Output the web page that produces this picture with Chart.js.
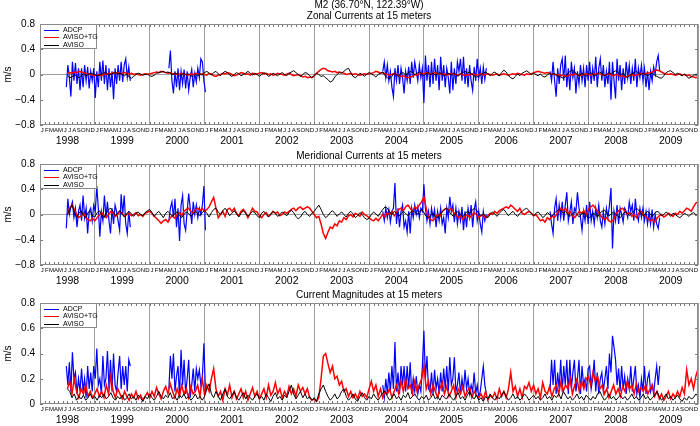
<!DOCTYPE html>
<html lang="en">
<head>
  <meta charset="UTF-8">
  <title>M2 currents at 15 meters</title>
  <script src="https://cdn.jsdelivr.net/npm/chart.js"></script>
  <style>
    html, body { margin: 0; padding: 0; background: #fff; }
    body { width: 700px; height: 426px; position: relative; overflow: hidden;
           font-family: "Liberation Sans", Arial, Helvetica, sans-serif; }
    .panel { position: absolute; left: 0; width: 700px; height: 146px; }
    .panel canvas { position: absolute; left: 0; top: 0; }
    .legend { position: absolute; left: 40px; top: 24px; width: 57px; height: 25px;
              box-sizing: border-box; border: 1px solid #8a8a8a; background: #fff; }
    .legend .row { position: absolute; left: 22px; font-size: 7px; line-height: 8px; white-space: nowrap; color: #000; }
    .legend .swatch { position: absolute; left: 3px; width: 15px; height: 1px; }
  </style>
</head>
<body>
  <div class="panel" id="p1" style="top:0px"><canvas id="zonal" width="700" height="146"></canvas></div>
  <div class="panel" id="p2" style="top:140px"><canvas id="merid" width="700" height="146"></canvas></div>
  <div class="panel" id="p3" style="top:279px"><canvas id="mag" width="700" height="146"></canvas></div>

  <script>
    // --- axis labels ---
    const years = [1998, 1999, 2000, 2001, 2002, 2003, 2004, 2005, 2006, 2007, 2008, 2009];
    const monthLetters = ['J', 'F', 'M', 'A', 'M', 'J', 'J', 'A', 'S', 'O', 'N', 'D'];
    const seriesNames = ['ADCP', 'AVISO+TG', 'AVISO'];
    const seriesColors = ['#0000ff', '#ff0000', '#000000'];
    const velTicks = [-0.8, -0.4, 0, 0.4, 0.8];
    const velTickLabels = ['\u22120.8', '\u22120.4', '0', '0.4', '0.8'];
    const magTicks = [0, 0.2, 0.4, 0.6, 0.8];
    const magTickLabels = ['0', '0.2', '0.4', '0.6', '0.8'];

    // ADCP records: start (decimal year) of each deployment, ~10 day sampling
    const adcpStarts = [1998.48, 2000.35, 2004.25, 2007.3];
    const adcpStep = 1 / 36;
    // AVISO series: half-monthly from July 1998
    const avisoStart = 1998.5;
    const avisoStep = 1 / 24;

    // --- zonal (m/s) ---
    const zonalAdcp1998 = [-0.2, 0.15, -0.05, -0.35, 0.2, -0.1, 0.18, -0.15, 0.1, -0.25,
      0.1, -0.2, 0.15, -0.1, 0.12, -0.22, 0.05, -0.1, 0.1, -0.37,
      0.05, -0.2, 0.2, -0.1, 0.22, -0.15, 0.15, -0.25, 0.1, -0.2,
      0.05, -0.39, 0.1, -0.15, 0.15, -0.1, 0.2, -0.12, 0.15, 0.25,
      -0.05, 0.12, -0.1];
    const zonalAdcp2000 = [0.1, 0.38, -0.1, -0.3, 0.05, -0.2, 0.1, -0.25, 0.05, -0.15,
      0.08, -0.22, 0.05, -0.25, -0.05, 0.08, -0.2, 0.02, -0.12, 0.1,
      -0.05, 0.25, 0.2, -0.1, -0.28];
    const zonalAdcp2004 = [0.05, 0.2, -0.05, 0.15, -0.1, 0.05, -0.2, -0.35, 0.1, -0.1,
      0.15, -0.15, 0.1, -0.05, -0.3, 0.05, -0.1, 0.12, -0.15, 0.2,
      -0.05, 0.2, 0.05, -0.1, 0.15, -0.05, 0.1, -0.45, 0.3, -0.1,
      0.15, -0.2, 0.2, -0.15, 0.25, -0.1, 0.15, -0.25, 0.28, -0.1,
      0.15, -0.2, 0.1, -0.05, -0.3, 0.2, -0.25, 0.1, -0.15, 0.2,
      0.05, 0.25, -0.1, 0.28, -0.15, 0.1, -0.2, 0.15, -0.1, -0.25,
      0.12, -0.1, 0.25, -0.05, 0.1, -0.15, 0.12, -0.08, 0.1];
    const zonalAdcp2007 = [0.05, -0.1, 0.2, -0.1, -0.35, 0.1, -0.15, 0.15, 0.25, -0.1,
      0.3, -0.2, 0.1, -0.25, 0.2, -0.05, 0.1, -0.3, 0.05, -0.15,
      0.15, -0.1, 0.1, -0.2, 0.15, -0.1, 0.2, -0.15, 0.1, -0.1,
      0.28, -0.2, 0.1, 0.25, -0.1, 0.15, -0.2, 0.05, -0.15, 0.2,
      -0.4, 0.2, -0.1, -0.38, 0.25, -0.1, 0.15, -0.25, 0.1, -0.15,
      0.2, -0.05, 0.15, -0.15, 0.1, -0.1, 0.25, -0.2, 0.1, -0.05,
      0.15, -0.1, 0.1, -0.2, 0.05, -0.25, 0.05, -0.1, 0.12, 0.0,
      0.2, 0.3, 0.05];
    const zonalAvisoTg = [
      0.02, 0.03, 0.02, 0.04, 0.03, 0.05, 0.04, 0.03, 0.02, 0.01, 0.0, -0.01,
      -0.02, -0.01, 0.0, -0.02, 0.01, 0.0, 0.02, 0.01, 0.03, 0.02, 0.03, 0.01,
      0.02, 0.03, 0.02, 0.01, 0.02, 0.0, 0.01, 0.0, -0.01, 0.0, 0.01, 0.0,
      0.01, 0.02, 0.03, 0.04, 0.03, 0.05, 0.04, 0.03, 0.02, 0.03, 0.01, 0.02,
      0.0, 0.01, 0.02, 0.01, 0.0, -0.01, 0.01, 0.0, 0.02, 0.01, 0.0, 0.01,
      0.0, -0.01, 0.02, 0.01, -0.02, -0.03, -0.01, 0.0, 0.02, 0.01, 0.03, 0.02,
      0.0, -0.02, -0.01, 0.01, 0.03, 0.02, 0.0, 0.01, -0.01, 0.02, 0.0, 0.01,
      0.02, 0.03, 0.01, 0.02, 0.0, 0.01, -0.01, 0.0, 0.02, 0.01, 0.0, -0.01,
      0.01, 0.02, 0.0, -0.02, -0.01, 0.0, -0.02, -0.04, -0.03, -0.05, -0.04, -0.05,
      -0.02, 0.02, 0.05, 0.08, 0.1, 0.09, 0.06, 0.05, 0.04, 0.05, 0.03, 0.04,
      0.03, 0.02, 0.0, 0.01, 0.02, 0.0, 0.01, 0.0, -0.01, 0.0, 0.01, 0.0,
      0.01, 0.02, 0.03, 0.05, 0.04, 0.02, 0.03, 0.01, 0.0, -0.01, 0.0, 0.02,
      0.0, -0.02, -0.03, -0.02, -0.04, -0.05, -0.04, -0.03, 0.0, -0.01, 0.01, 0.02,
      0.01, 0.03, 0.02, 0.0, 0.02, 0.03, 0.01, 0.02, 0.0, 0.01, -0.01, 0.0,
      0.02, 0.01, 0.0, -0.01, 0.01, 0.0, -0.02, 0.0, -0.01, 0.01, 0.0, -0.01,
      0.0, 0.01, -0.01, 0.0, 0.01, 0.0, -0.01, 0.0, 0.01, -0.01, 0.0, 0.01,
      0.0, -0.01, 0.0, 0.01, 0.0, 0.02, 0.01, 0.0, -0.01, 0.01, 0.0, 0.01,
      0.03, 0.04, 0.05, 0.04, 0.03, 0.02, 0.03, 0.02, 0.0, 0.01, -0.01, 0.0,
      -0.02, -0.01, -0.03, -0.02, 0.0, -0.01, 0.01, 0.0, -0.02, -0.01, 0.0, 0.01,
      0.0, -0.01, 0.01, 0.0, 0.02, 0.01, 0.0, -0.01, 0.0, 0.01, -0.01, -0.02,
      0.0, -0.01, -0.03, -0.02, -0.04, -0.03, -0.01, 0.0, -0.02, -0.01, 0.0, 0.02,
      0.01, 0.02, 0.02, 0.03, 0.04, 0.06, 0.07, 0.06, 0.04, 0.02, 0.01, 0.0,
      0.01, 0.0, -0.01, 0.0, 0.01, -0.01, 0.0, -0.02, -0.01, -0.03, -0.04, -0.05,
      -0.04];
    const zonalAviso = [
      -0.02, -0.05, -0.04, 0.0, -0.03, -0.05, -0.02, 0.01, -0.02, 0.0, 0.02, 0.01,
      0.0, -0.02, -0.01, 0.01, 0.03, 0.02, -0.01, 0.0, 0.02, 0.03, 0.01, 0.02,
      0.0, -0.02, 0.01, -0.04, -0.06, -0.03, 0.0, 0.02, 0.01, -0.01, 0.0, 0.01,
      -0.02, -0.03, -0.01, 0.02, 0.03, 0.04, 0.05, 0.03, 0.04, 0.02, 0.0, 0.02,
      0.01, -0.02, 0.0, 0.02, -0.01, 0.01, -0.02, -0.03, 0.0, -0.02, 0.01, -0.01,
      0.03, 0.05, 0.02, -0.01, 0.03, 0.05, 0.01, -0.02, 0.02, 0.05, 0.03, -0.01,
      -0.03, 0.0, 0.03, 0.01, -0.02, 0.0, 0.02, 0.05, 0.02, -0.01, 0.02, 0.0,
      -0.03, 0.0, 0.03, 0.01, -0.03, -0.01, 0.02, 0.0, -0.02, 0.01, 0.03, 0.0,
      -0.02, 0.02, 0.04, 0.06, 0.03, 0.0, -0.03, 0.0, 0.03, 0.02, -0.02, -0.05,
      -0.02, 0.02, 0.0, -0.03, -0.02, -0.05, -0.08, -0.12, -0.1, -0.04, 0.0, 0.03,
      0.02, 0.05, 0.08, 0.1, 0.03, -0.03, -0.05, -0.02, 0.02, 0.0, -0.03, 0.01,
      0.03, 0.01, -0.01, -0.04, 0.0, 0.02, 0.04, -0.02, -0.05, -0.07, -0.03, 0.02,
      0.0, -0.03, 0.02, 0.03, -0.01, 0.02, 0.05, 0.03, 0.0, 0.02, 0.04, 0.01,
      -0.02, 0.01, 0.03, 0.0, 0.02, -0.01, 0.01, 0.03, 0.0, -0.02, 0.01, 0.02,
      -0.01, 0.02, 0.0, -0.03, 0.01, 0.03, 0.05, 0.02, 0.04, 0.0, -0.02, -0.04,
      -0.03, 0.0, 0.02, 0.04, 0.01, -0.02, 0.02, 0.04, 0.0, -0.02, 0.03, 0.07,
      0.04, -0.02, -0.05, -0.07, -0.03, 0.01, -0.02, 0.02, 0.04, 0.06, 0.03, 0.0,
      0.02, 0.0, -0.02, 0.01, -0.03, -0.04, -0.01, 0.02, 0.0, 0.02, -0.01, -0.03,
      -0.04, -0.06, -0.03, 0.02, 0.05, 0.07, 0.04, 0.0, -0.02, 0.02, 0.0, -0.03,
      0.01, 0.03, 0.0, -0.02, 0.02, 0.04, 0.01, -0.02, 0.0, 0.03, 0.01, 0.04,
      0.06, 0.03, -0.01, 0.02, -0.02, -0.05, -0.02, 0.01, 0.03, 0.05, 0.02, 0.0,
      0.02, 0.0, -0.02, 0.01, 0.02, -0.01, -0.03, -0.05, -0.06, -0.02, 0.03, 0.05,
      0.06, 0.03, 0.0, 0.02, 0.0, -0.02, 0.01, -0.03, -0.06, -0.04, -0.01, 0.0,
      0.01];

    // --- meridional (m/s) ---
    const meridAdcp1998 = [-0.22, 0.25, 0.0, 0.12, 0.2, -0.05, 0.1, -0.2, 0.05, 0.15,
      -0.1, 0.3, -0.05, 0.1, -0.3, 0.05, 0.1, -0.1, 0.15, 0.05,
      0.45, 0.1, -0.35, 0.05, -0.1, 0.3, -0.05, 0.2, -0.1, -0.3,
      0.1, -0.15, 0.15, 0.05, -0.1, -0.25, 0.32, 0.0, 0.3, -0.15,
      -0.3, 0.05, -0.2];
    const meridAdcp2000 = [-0.1, 0.1, 0.2, -0.05, 0.25, -0.2, 0.1, -0.42, 0.15, 0.3,
      -0.15, -0.25, 0.05, 0.33, 0.1, -0.15, 0.2, 0.0, 0.15, -0.05,
      0.1, 0.0, 0.15, 0.45, -0.25];
    const meridAdcp2004 = [0.05, -0.1, 0.1, -0.05, 0.08, -0.12, 0.05, 0.1, 0.5, -0.15,
      0.1, -0.2, 0.05, 0.15, -0.2, -0.1, -0.28, 0.05, -0.3, 0.1,
      -0.05, 0.15, 0.0, 0.12, -0.05, 0.1, 0.05, 0.48, 0.1, -0.1,
      0.05, -0.15, 0.1, -0.05, 0.08, -0.2, 0.05, -0.1, 0.1, -0.15,
      -0.05, -0.3, 0.1, -0.05, 0.28, 0.05, 0.15, -0.12, 0.1, -0.15,
      0.05, -0.1, 0.12, -0.25, 0.05, -0.2, 0.1, -0.05, 0.15, -0.2,
      0.08, 0.2, -0.1, 0.05, -0.15, -0.28, 0.05, -0.1, 0.0];
    const meridAdcp2007 = [0.05, -0.15, -0.3, 0.1, 0.25, -0.1, 0.15, -0.05, 0.2, -0.1,
      0.15, 0.35, -0.1, 0.05, 0.2, -0.15, 0.1, 0.05, 0.35, 0.1,
      -0.05, -0.25, 0.05, -0.1, 0.15, -0.15, 0.2, -0.1, 0.05, -0.15,
      0.1, -0.05, 0.15, -0.1, -0.2, 0.05, -0.15, 0.1, -0.05, 0.15,
      0.42, -0.54, 0.05, -0.1, 0.15, -0.15, 0.1, 0.0, -0.12, 0.1,
      0.05, -0.05, 0.2, 0.05, 0.15, -0.1, 0.25, 0.0, -0.1, 0.1,
      -0.05, 0.1, -0.1, 0.05, -0.15, 0.05, -0.15, 0.08, -0.2, 0.0,
      -0.15, -0.22, -0.05];
    const meridAvisoTg = [
      0.0, 0.1, 0.15, 0.08, 0.0, -0.05, -0.02, 0.03, -0.05, -0.08, -0.1, -0.06,
      -0.1, -0.05, 0.0, 0.03, -0.02, -0.05, 0.0, 0.05, 0.02, -0.03, 0.0, 0.05,
      0.02, -0.03, 0.0, 0.02, -0.02, 0.0, 0.03, -0.02, 0.0, -0.03, 0.02, 0.04,
      0.05, 0.02, -0.03, -0.06, -0.1, -0.14, -0.1, -0.08, -0.12, -0.05, -0.02, -0.06,
      0.0, 0.03, -0.02, 0.05, 0.08, 0.1, 0.05, 0.02, 0.08, 0.1, 0.06, 0.1,
      0.05, 0.08, 0.12, 0.2, 0.27, 0.1, -0.05, 0.0, 0.05, -0.03, 0.08, 0.1,
      0.05, 0.1, 0.02, -0.02, 0.05, 0.08, 0.03, -0.05, 0.02, 0.1, 0.05, 0.04,
      -0.02, -0.05, 0.0, 0.03, -0.03, 0.0, 0.05, 0.02, 0.04, -0.02, 0.0, 0.04,
      0.02, 0.05, 0.08, 0.1, 0.06, 0.1, 0.12, 0.08, 0.1, 0.12, 0.1, 0.05,
      0.0, -0.05, -0.03, -0.15, -0.3, -0.38, -0.28, -0.2, -0.22, -0.15, -0.18, -0.1,
      -0.12, -0.05, -0.08, -0.02, 0.0, -0.04, 0.02, 0.0, -0.03, 0.04, 0.0, -0.02,
      -0.05, -0.08, -0.1, -0.06, -0.1, -0.05, 0.0, -0.04, 0.03, 0.0, 0.05, -0.02,
      0.03, 0.08, 0.1, 0.06, 0.12, 0.15, 0.1, 0.05, 0.12, 0.1, 0.15, 0.2,
      0.28, 0.1, -0.05, -0.08, -0.1, -0.05, 0.0, -0.03, 0.05, 0.08, 0.1, 0.06,
      0.1, 0.03, 0.0, -0.05, -0.02, -0.08, -0.03, 0.0, -0.05, -0.02, 0.03, 0.0,
      -0.05, -0.02, 0.0, -0.06, -0.02, 0.02, 0.0, 0.05, 0.02, 0.06, 0.08, 0.1,
      0.12, 0.1, 0.15, 0.12, 0.08, 0.05, 0.1, 0.02, 0.0, 0.03, 0.05, 0.02,
      -0.02, 0.0, -0.05, -0.1, -0.08, -0.12, -0.05, -0.08, -0.02, -0.05, 0.0, 0.05,
      0.1, 0.06, 0.1, 0.02, 0.05, -0.02, -0.05, 0.0, 0.05, 0.02, 0.06, 0.0,
      0.08, 0.12, 0.15, 0.1, 0.05, 0.0, -0.05, -0.08, -0.05, -0.1, -0.12, -0.08,
      0.0, 0.05, 0.08, 0.1, 0.05, 0.0, 0.03, -0.03, 0.0, -0.05, 0.02, 0.05,
      0.0, -0.03, -0.06, -0.1, -0.08, -0.12, -0.06, -0.02, 0.0, -0.04, -0.02, 0.02,
      0.0, -0.03, 0.02, 0.0, 0.05, 0.02, 0.06, 0.1, 0.08, 0.05, 0.12, 0.18,
      0.2];
    const meridAviso = [
      0.0, 0.08, 0.15, 0.05, -0.05, 0.02, 0.06, -0.02, -0.05, 0.03, 0.05, -0.02,
      -0.04, 0.03, 0.06, 0.0, -0.05, 0.02, 0.08, 0.1, 0.05, -0.02, 0.03, 0.06,
      0.0, -0.04, 0.02, 0.05, 0.01, -0.03, 0.02, 0.04, 0.0, -0.02, 0.03, 0.06,
      0.08, 0.03, -0.03, 0.02, 0.05, 0.0, -0.05, 0.02, 0.05, 0.01, -0.03, 0.02,
      0.04, -0.02, -0.05, 0.0, 0.04, 0.02, -0.03, 0.01, 0.05, 0.02, -0.02, 0.03,
      0.06, 0.02, -0.04, 0.03, 0.08, 0.1, 0.04, 0.0, 0.06, 0.1, 0.05, -0.02,
      0.02, 0.06, 0.01, -0.04, 0.02, 0.06, 0.02, -0.03, 0.01, 0.05, 0.03, -0.02,
      -0.05, 0.02, 0.05, 0.0, -0.04, 0.01, 0.05, 0.02, -0.03, 0.0, 0.04, 0.01,
      -0.02, 0.03, 0.07, 0.03, -0.03, -0.07, -0.04, 0.02, 0.05, 0.0, -0.03, 0.02,
      0.05, 0.1, 0.15, 0.08, 0.0, -0.05, -0.02, 0.03, 0.06, 0.02, -0.03, 0.01,
      0.04, 0.0, -0.04, 0.02, 0.05, 0.01, -0.05, -0.02, 0.03, 0.0, -0.05, -0.08,
      -0.06, 0.0, 0.04, 0.01, -0.03, 0.03, 0.08, 0.12, 0.1, 0.04, 0.0, 0.05,
      0.02, -0.03, 0.01, 0.05, 0.02, -0.02, 0.03, 0.06, 0.04, 0.0, 0.05, 0.08,
      0.03, -0.03, -0.05, -0.02, 0.02, -0.04, -0.05, 0.0, 0.04, 0.08, 0.1, 0.05,
      0.0, -0.03, 0.02, 0.05, 0.0, -0.04, 0.01, 0.05, 0.02, 0.06, 0.1, 0.07,
      0.02, -0.02, 0.01, -0.03, -0.05, 0.0, 0.04, 0.01, -0.03, 0.02, 0.06, 0.08,
      0.03, -0.02, 0.02, 0.05, 0.0, -0.03, 0.02, 0.05, 0.08, 0.1, 0.06, 0.02,
      -0.02, 0.02, 0.04, 0.0, -0.05, -0.02, 0.03, 0.0, -0.03, 0.02, 0.05, 0.08,
      0.06, 0.02, 0.05, 0.0, -0.03, 0.01, 0.04, 0.0, -0.04, 0.01, 0.03, -0.02,
      -0.06, -0.03, 0.02, 0.0, -0.04, 0.02, 0.05, 0.07, 0.03, -0.02, 0.01, 0.04,
      0.0, -0.03, -0.05, 0.0, 0.04, 0.02, -0.02, 0.03, 0.06, 0.1, 0.07, 0.02,
      -0.02, 0.02, 0.05, 0.01, -0.03, 0.02, 0.05, 0.03, -0.02, 0.0, 0.04, 0.01,
      -0.03, 0.02, 0.0, -0.03, -0.05, -0.02, 0.02, 0.0, -0.03, 0.01, 0.03, 0.0,
      -0.02];

    // --- magnitude (m/s) ---
    const magAdcp1998 = [0.3, 0.15, 0.33, 0.1, 0.41, 0.2, 0.25, 0.08, 0.2, 0.1,
      0.28, 0.1, 0.2, 0.05, 0.3, 0.12, 0.25, 0.1, 0.3, 0.2,
      0.44, 0.15, 0.2, 0.08, 0.38, 0.15, 0.2, 0.42, 0.12, 0.35,
      0.1, 0.4, 0.15, 0.1, 0.25, 0.38, 0.12, 0.3, 0.15, 0.3,
      0.1, 0.35, 0.3];
    const magAdcp2000 = [0.12, 0.38, 0.2, 0.4, 0.1, 0.22, 0.3, 0.05, 0.43, 0.15,
      0.35, 0.08, 0.2, 0.35, 0.05, 0.15, 0.28, 0.1, 0.28, 0.2,
      0.27, 0.15, 0.22, 0.48, 0.1];
    const magAdcp2004 = [0.15, 0.05, 0.2, 0.08, 0.25, 0.1, 0.3, 0.12, 0.49, 0.1,
      0.25, 0.08, 0.3, 0.15, 0.3, 0.1, 0.3, 0.12, 0.33, 0.08,
      0.2, 0.1, 0.22, 0.08, 0.15, 0.1, 0.3, 0.58, 0.2, 0.38,
      0.12, 0.1, 0.25, 0.08, 0.27, 0.12, 0.2, 0.08, 0.25, 0.1,
      0.28, 0.12, 0.3, 0.1, 0.37, 0.15, 0.2, 0.37, 0.1, 0.15,
      0.25, 0.08, 0.2, 0.1, 0.27, 0.12, 0.2, 0.08, 0.15, 0.1,
      0.25, 0.08, 0.15, 0.05, 0.1, 0.2, 0.3, 0.15, 0.08];
    const magAdcp2007 = [0.1, 0.35, 0.15, 0.35, 0.08, 0.25, 0.12, 0.35, 0.1, 0.3,
      0.15, 0.35, 0.08, 0.35, 0.12, 0.25, 0.35, 0.1, 0.2, 0.35,
      0.08, 0.3, 0.15, 0.2, 0.1, 0.28, 0.3, 0.12, 0.2, 0.35,
      0.1, 0.25, 0.08, 0.2, 0.25, 0.1, 0.2, 0.3, 0.12, 0.4,
      0.25, 0.54, 0.45, 0.35, 0.15, 0.28, 0.1, 0.3, 0.12, 0.22,
      0.08, 0.2, 0.12, 0.3, 0.1, 0.2, 0.3, 0.08, 0.15, 0.05,
      0.2, 0.1, 0.3, 0.08, 0.2, 0.25, 0.1, 0.15, 0.08, 0.2,
      0.3, 0.15, 0.3];
    const magAvisoTg = [
      0.12, 0.18, 0.08, 0.2, 0.1, 0.05, 0.12, 0.08, 0.15, 0.06, 0.1, 0.05,
      0.08, 0.12, 0.06, 0.1, 0.05, 0.15, 0.08, 0.22, 0.1, 0.05, 0.12, 0.08,
      0.04, 0.1, 0.06, 0.03, 0.08, 0.05, 0.1, 0.04, 0.07, 0.03, 0.06, 0.09,
      0.05, 0.1, 0.06, 0.13, 0.08, 0.04, 0.1, 0.14, 0.08, 0.16, 0.1, 0.05,
      0.12, 0.06, 0.15, 0.08, 0.12, 0.05, 0.14, 0.08, 0.1, 0.15, 0.06, 0.2,
      0.08, 0.15, 0.1, 0.2, 0.28, 0.12, 0.06, 0.1, 0.03, 0.12, 0.07, 0.15,
      0.05, 0.1, 0.04, 0.08, 0.12, 0.05, 0.1, 0.03, 0.08, 0.13, 0.06, 0.1,
      0.04, 0.08, 0.12, 0.05, 0.15, 0.07, 0.1, 0.17, 0.08, 0.12, 0.05, 0.1,
      0.06, 0.14, 0.08, 0.12, 0.06, 0.15, 0.1, 0.13, 0.08, 0.12, 0.05, 0.03,
      0.04, 0.02, 0.05, 0.2, 0.38, 0.4, 0.32, 0.25, 0.3, 0.2, 0.22, 0.15,
      0.18, 0.1, 0.12, 0.06, 0.1, 0.05, 0.08, 0.04, 0.1, 0.06, 0.08, 0.05,
      0.12, 0.18, 0.1, 0.15, 0.06, 0.12, 0.05, 0.1, 0.08, 0.12, 0.05, 0.1,
      0.15, 0.08, 0.18, 0.1, 0.2, 0.12, 0.15, 0.08, 0.18, 0.1, 0.15, 0.2,
      0.3, 0.12, 0.18, 0.08, 0.15, 0.1, 0.05, 0.12, 0.17, 0.08, 0.14, 0.06,
      0.1, 0.15, 0.05, 0.12, 0.08, 0.14, 0.06, 0.1, 0.13, 0.05, 0.1, 0.07,
      0.05, 0.08, 0.04, 0.1, 0.03, 0.07, 0.05, 0.09, 0.04, 0.12, 0.06, 0.1,
      0.05, 0.12, 0.25, 0.1, 0.14, 0.06, 0.12, 0.05, 0.14, 0.12, 0.17, 0.1,
      0.15, 0.08, 0.12, 0.05, 0.17, 0.1, 0.08, 0.14, 0.06, 0.12, 0.15, 0.08,
      0.18, 0.1, 0.15, 0.12, 0.2, 0.08, 0.15, 0.2, 0.1, 0.18, 0.12, 0.2,
      0.22, 0.15, 0.25, 0.18, 0.22, 0.12, 0.15, 0.08, 0.12, 0.05, 0.1, 0.15,
      0.08, 0.12, 0.06, 0.14, 0.1, 0.18, 0.12, 0.15, 0.08, 0.16, 0.1, 0.13,
      0.1, 0.15, 0.08, 0.12, 0.15, 0.06, 0.1, 0.04, 0.08, 0.03, 0.06, 0.1,
      0.04, 0.08, 0.05, 0.1, 0.06, 0.13, 0.08, 0.27, 0.15, 0.2, 0.12, 0.22,
      0.28];
    const magAviso = [
      0.12, 0.1, 0.05, 0.08, 0.03, 0.06, 0.04, 0.07, 0.03, 0.05, 0.08, 0.04,
      0.06, 0.03, 0.07, 0.05, 0.08, 0.04, 0.06, 0.09, 0.05, 0.03, 0.06, 0.04,
      0.07, 0.03, 0.05, 0.08, 0.04, 0.06, 0.03, 0.07, 0.05, 0.02, 0.06, 0.04,
      0.08, 0.05, 0.03, 0.06, 0.1, 0.06, 0.04, 0.07, 0.05, 0.09, 0.04, 0.06,
      0.03, 0.07, 0.05, 0.08, 0.04, 0.06, 0.03, 0.05, 0.08, 0.04, 0.06, 0.03,
      0.06, 0.12, 0.16, 0.08, 0.05, 0.1, 0.06, 0.03, 0.08, 0.12, 0.06, 0.04,
      0.07, 0.1, 0.05, 0.03, 0.06, 0.09, 0.04, 0.07, 0.05, 0.03, 0.06, 0.08,
      0.04, 0.06, 0.03, 0.08, 0.05, 0.02, 0.06, 0.09, 0.04, 0.06, 0.03, 0.07,
      0.05, 0.1, 0.15, 0.08, 0.04, 0.07, 0.1, 0.05, 0.08, 0.04, 0.06, 0.03,
      0.05, 0.02, 0.08, 0.12, 0.15, 0.1, 0.06, 0.03, 0.05, 0.08, 0.04, 0.06,
      0.1, 0.12, 0.06, 0.03, 0.05, 0.08, 0.04, 0.02, 0.06, 0.09, 0.05, 0.03,
      0.06, 0.04, 0.08, 0.05, 0.03, 0.06, 0.09, 0.1, 0.06, 0.03, 0.05, 0.08,
      0.04, 0.06, 0.03, 0.07, 0.05, 0.09, 0.04, 0.06, 0.08, 0.05, 0.03, 0.06,
      0.04, 0.07, 0.03, 0.05, 0.08, 0.04, 0.06, 0.03, 0.07, 0.05, 0.04, 0.08,
      0.05, 0.03, 0.06, 0.09, 0.04, 0.06, 0.03, 0.07, 0.1, 0.06, 0.04, 0.07,
      0.03, 0.05, 0.02, 0.06, 0.04, 0.08, 0.05, 0.03, 0.06, 0.04, 0.07, 0.1,
      0.06, 0.03, 0.05, 0.08, 0.04, 0.06, 0.03, 0.05, 0.08, 0.06, 0.03, 0.05,
      0.07, 0.04, 0.06, 0.03, 0.05, 0.08, 0.04, 0.06, 0.03, 0.07, 0.05, 0.08,
      0.04, 0.1, 0.07, 0.04, 0.06, 0.03, 0.05, 0.08, 0.04, 0.06, 0.03, 0.07,
      0.05, 0.03, 0.06, 0.04, 0.08, 0.1, 0.06, 0.03, 0.05, 0.08, 0.04, 0.06,
      0.03, 0.05, 0.07, 0.04, 0.06, 0.03, 0.05, 0.08, 0.04, 0.06, 0.03, 0.05,
      0.08, 0.04, 0.06, 0.03, 0.05, 0.07, 0.1, 0.06, 0.03, 0.05, 0.08, 0.04,
      0.06, 0.03, 0.05, 0.07, 0.04, 0.02, 0.05, 0.03, 0.06, 0.04, 0.05, 0.08,
      0.06];

    const FONT = '"Liberation Sans", Arial, Helvetica, sans-serif';
    Chart.defaults.font.family = FONT;
    Chart.defaults.color = '#000';

    // tick positions along the time axis
    const monthMids = [], monthEdges = [], yearMids = [], yearEdges = [];
    years.forEach(y => {
      monthLetters.forEach((m, i) => { monthMids.push(y + (i + 0.5) / 12); monthEdges.push(y + i / 12); });
      yearMids.push(y + 0.5);
      yearEdges.push(y);
    });
    yearEdges.push(years[years.length - 1] + 1);

    function evenPoints(values) {
      return values.map((v, i) => ({ x: avisoStart + i * avisoStep, y: v }));
    }
    function adcpPoints(segments) {
      const pts = [];
      segments.forEach((seg, k) => {
        if (k) pts.push({ x: adcpStarts[k] - 0.01, y: null });   // break the line between deployments
        seg.forEach((v, i) => pts.push({ x: adcpStarts[k] + i * adcpStep, y: v }));
      });
      return pts;
    }

    // frame box plus small inward ticks (months on top/bottom, values on both sides)
    const framePlugin = {
      id: 'frame',
      afterDatasetsDraw(chart) {
        const { ctx, chartArea: a } = chart;
        const xs = chart.scales.x, ys = chart.scales.y;
        ctx.save();
        ctx.strokeStyle = '#777';
        ctx.lineWidth = 1;
        ctx.beginPath();
        monthEdges.forEach(v => {
          const px = Math.round(xs.getPixelForValue(v)) + 0.5;
          ctx.moveTo(px, a.top); ctx.lineTo(px, a.top + 3);
          ctx.moveTo(px, a.bottom); ctx.lineTo(px, a.bottom - 3);
        });
        ys.ticks.forEach(t => {
          const py = Math.round(ys.getPixelForValue(t.value)) + 0.5;
          ctx.moveTo(a.left, py); ctx.lineTo(a.left + 3, py);
          ctx.moveTo(a.right, py); ctx.lineTo(a.right - 3, py);
        });
        ctx.stroke();
        ctx.strokeStyle = '#8a8a8a';
        ctx.strokeRect(Math.round(a.left) + 0.5, Math.round(a.top) + 0.5,
                       Math.round(a.right - a.left) - 1, Math.round(a.bottom - a.top) - 1);
        ctx.restore();
      }
    };

    function addLegend(panelId) {
      const box = document.createElement('div');
      box.className = 'legend';
      const rowY = [4.5, 12, 19.5];
      seriesNames.forEach((name, k) => {
        const sw = document.createElement('span');
        sw.className = 'swatch';
        sw.style.top = rowY[k] + 'px';
        sw.style.background = seriesColors[k];
        const row = document.createElement('div');
        row.className = 'row';
        row.style.top = (rowY[k] - 4) + 'px';
        row.textContent = name;
        box.appendChild(sw);
        box.appendChild(row);
      });
      document.getElementById(panelId).appendChild(box);
    }

    function makePanel(canvasId, panelId, title, titleTop, yTicks, yLabels, showZero, adcpSegs, tgValues, avisoValues) {
      const lineStyle = { pointRadius: 0, tension: 0, fill: false, spanGaps: false };
      const datasets = [
        Object.assign({ label: seriesNames[0], data: adcpPoints(adcpSegs), borderColor: seriesColors[0], borderWidth: 1.2, order: 3 }, lineStyle),
        Object.assign({ label: seriesNames[1], data: evenPoints(tgValues), borderColor: seriesColors[1], borderWidth: 1.5, order: 2 }, lineStyle),
        Object.assign({ label: seriesNames[2], data: evenPoints(avisoValues), borderColor: seriesColors[2], borderWidth: 1, order: 1 }, lineStyle)
      ];
      new Chart(document.getElementById(canvasId), {
        type: 'line',
        data: { datasets },
        options: {
          responsive: false,
          animation: false,
          devicePixelRatio: 1,
          layout: { padding: { left: 0, right: 1, top: 0, bottom: 0 } },
          plugins: {
            legend: { display: false },
            tooltip: { enabled: false },
            title: {
              display: true, text: title, fullSize: false,
              font: { size: 10, weight: 'normal', lineHeight: 1.1 },
              padding: { top: titleTop, bottom: 2 }
            }
          },
          scales: {
            x: {
              type: 'linear', axis: 'x', position: 'bottom', weight: 0,
              min: years[0], max: years[years.length - 1] + 1,
              afterBuildTicks: s => { s.ticks = monthMids.map(v => ({ value: v })); },
              afterFit: s => { s.height = 10; },
              ticks: { autoSkip: false, maxRotation: 0, minRotation: 0, padding: 2,
                       font: { size: 6 }, color: '#000', callback: (v, i) => monthLetters[i % 12] },
              grid: { display: false, drawTicks: false },
              border: { display: false }
            },
            xYear: {
              type: 'linear', axis: 'x', position: 'bottom', weight: 1,
              min: years[0], max: years[years.length - 1] + 1,
              afterBuildTicks: s => { s.ticks = yearMids.map(v => ({ value: v })); },
              afterFit: s => { s.height = 11; },
              ticks: { autoSkip: false, maxRotation: 0, minRotation: 0, padding: 0,
                       font: { size: 10.5 }, callback: (v, i) => String(years[i]) },
              grid: { display: false, drawTicks: false },
              border: { display: false }
            },
            xGrid: {
              type: 'linear', axis: 'x', position: 'top',
              min: years[0], max: years[years.length - 1] + 1,
              afterBuildTicks: s => { s.ticks = yearEdges.map(v => ({ value: v })); },
              afterFit: s => { s.height = 0; },
              ticks: { display: false },
              grid: { color: '#a0a0a0', lineWidth: 1, drawTicks: false },
              border: { display: false }
            },
            y: {
              min: yTicks[0], max: yTicks[yTicks.length - 1],
              afterBuildTicks: s => { s.ticks = yTicks.map(v => ({ value: v })); },
              afterFit: s => { s.width = 40; },
              ticks: { padding: 5, font: { size: 10 }, callback: (v, i) => yLabels[i] },
              grid: {
                drawTicks: false,
                color: c => (showZero && c.tick && c.tick.value === 0) ? '#a0a0a0' : 'rgba(0,0,0,0)'
              },
              border: { display: false },
              title: { display: true, text: 'm/s', font: { size: 10 }, padding: { top: 2, bottom: 0 } }
            }
          }
        },
        plugins: [framePlugin]
      });
      addLegend(panelId);
    }

    makePanel('zonal', 'p1', ['M2 (36.70\u00b0N, 122.39\u00b0W)', 'Zonal Currents at 15 meters'], 0,
      velTicks, velTickLabels, true,
      [zonalAdcp1998, zonalAdcp2000, zonalAdcp2004, zonalAdcp2007], zonalAvisoTg, zonalAviso);
    makePanel('merid', 'p2', 'Meridional Currents at 15 meters', 11,
      velTicks, velTickLabels, true,
      [meridAdcp1998, meridAdcp2000, meridAdcp2004, meridAdcp2007], meridAvisoTg, meridAviso);
    makePanel('mag', 'p3', 'Current Magnitudes at 15 meters', 11,
      magTicks, magTickLabels, false,
      [magAdcp1998, magAdcp2000, magAdcp2004, magAdcp2007], magAvisoTg, magAviso);
  </script>
</body>
</html>
